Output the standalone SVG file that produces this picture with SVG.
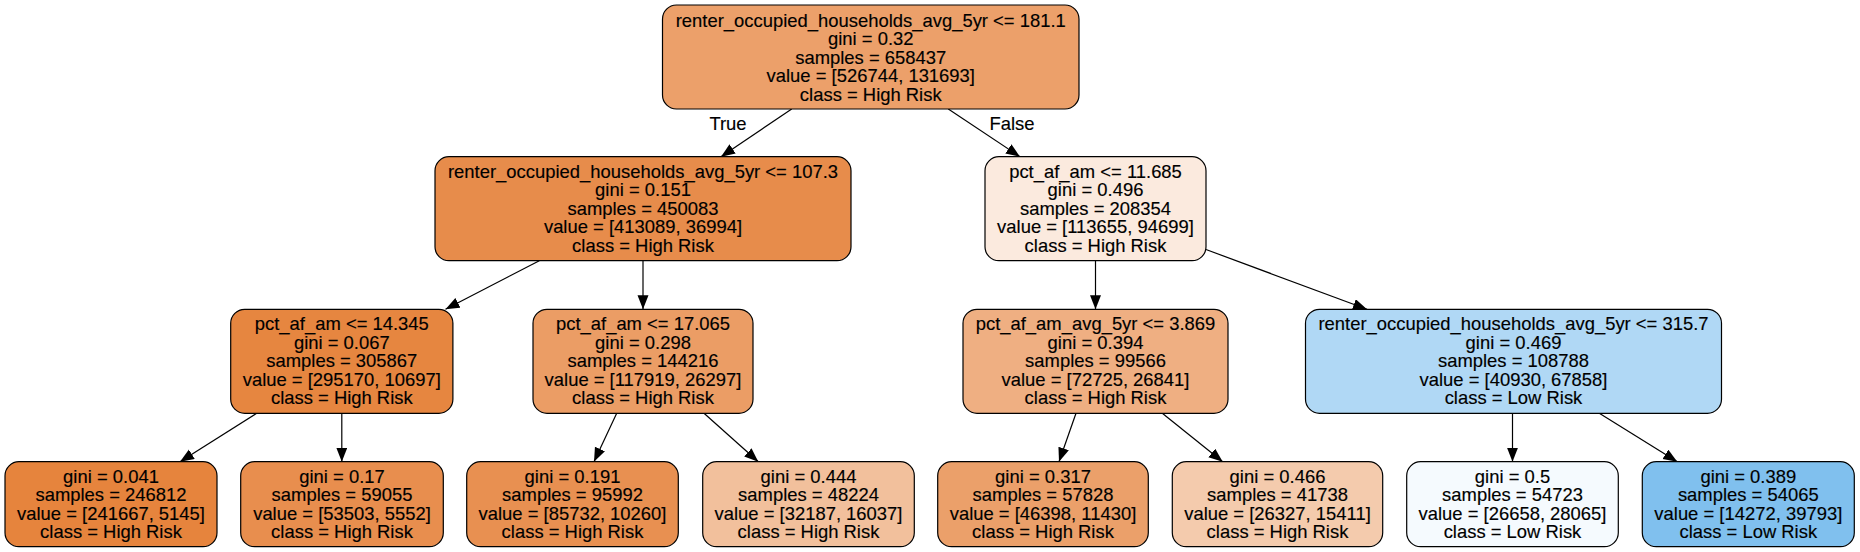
<svg xmlns="http://www.w3.org/2000/svg" width="1860" height="552" viewBox="0 0 1860 552">
<style>
rect.n { stroke:#000; stroke-width:1.2; }
text { font-family:"Liberation Sans", Arial, Helvetica, sans-serif; font-size:17.8px; text-anchor:middle; fill:#000; stroke:#000; stroke-width:0.15; }
line.e { stroke:#000; stroke-width:1.2; marker-end:url(#ah); }
</style>
<defs>
<marker id="ah" markerUnits="userSpaceOnUse" markerWidth="15" markerHeight="12" refX="14" refY="5.5" orient="auto">
<path d="M0,0 L14,5.5 L0,11 z" fill="#000"/>
</marker>
</defs>
<rect width="1860" height="552" fill="#fff"/>
<g id="connectors">
<line class="e" x1="791.7" y1="109" x2="721" y2="156.7"/>
<line class="e" x1="948.3" y1="109" x2="1020" y2="156.7"/>
<g transform="translate(728,0) scale(1.035,1)"><text x="0" y="130">True</text></g>
<g transform="translate(1012,0) scale(1.035,1)"><text x="0" y="130">False</text></g>
<line class="e" x1="539.3" y1="260.7" x2="445.5" y2="309.3"/>
<line class="e" x1="643" y1="260.7" x2="643" y2="309.3"/>
<line class="e" x1="1095.5" y1="260.7" x2="1095.5" y2="309.3"/>
<line class="e" x1="1206" y1="249.5" x2="1367" y2="309.3"/>
<line class="e" x1="256.7" y1="413.3" x2="180" y2="461.7"/>
<line class="e" x1="341.8" y1="413.3" x2="341.8" y2="461.7"/>
<line class="e" x1="616.7" y1="413.3" x2="594" y2="461.7"/>
<line class="e" x1="704" y1="413.3" x2="758.3" y2="461.7"/>
<line class="e" x1="1076" y1="413.3" x2="1059" y2="461.7"/>
<line class="e" x1="1162.3" y1="413.3" x2="1222.7" y2="461.7"/>
<line class="e" x1="1512.5" y1="413.3" x2="1512.5" y2="461.7"/>
<line class="e" x1="1599.3" y1="413.3" x2="1677.3" y2="461.7"/>
</g>
<g id="node0">
<rect class="n" x="662.5" y="5" width="416.5" height="104" rx="14" fill="#eca06a"/>
<g transform="translate(870.75,0) scale(1.035,1)">
<text x="0" y="26.7">renter_occupied_households_avg_5yr &lt;= 181.1</text>
<text x="0" y="45.2">gini = 0.32</text>
<text x="0" y="63.7">samples = 658437</text>
<text x="0" y="82.2">value = [526744, 131693]</text>
<text x="0" y="100.7">class = High Risk</text>
</g>
</g>
<g id="node1">
<rect class="n" x="435" y="156.7" width="416" height="104" rx="14" fill="#e78c4b"/>
<g transform="translate(643,0) scale(1.035,1)">
<text x="0" y="177.7">renter_occupied_households_avg_5yr &lt;= 107.3</text>
<text x="0" y="196.2">gini = 0.151</text>
<text x="0" y="214.7">samples = 450083</text>
<text x="0" y="233.2">value = [413089, 36994]</text>
<text x="0" y="251.7">class = High Risk</text>
</g>
</g>
<g id="node8">
<rect class="n" x="985" y="156.7" width="221" height="104" rx="14" fill="#fbeade"/>
<g transform="translate(1095.5,0) scale(1.035,1)">
<text x="0" y="177.7">pct_af_am &lt;= 11.685</text>
<text x="0" y="196.2">gini = 0.496</text>
<text x="0" y="214.7">samples = 208354</text>
<text x="0" y="233.2">value = [113655, 94699]</text>
<text x="0" y="251.7">class = High Risk</text>
</g>
</g>
<g id="node2">
<rect class="n" x="230.7" y="309.3" width="222.2" height="104" rx="14" fill="#e68640"/>
<g transform="translate(341.8,0) scale(1.035,1)">
<text x="0" y="330.3">pct_af_am &lt;= 14.345</text>
<text x="0" y="348.8">gini = 0.067</text>
<text x="0" y="367.3">samples = 305867</text>
<text x="0" y="385.8">value = [295170, 10697]</text>
<text x="0" y="404.3">class = High Risk</text>
</g>
</g>
<g id="node5">
<rect class="n" x="533" y="309.3" width="220" height="104" rx="14" fill="#eb9d65"/>
<g transform="translate(643,0) scale(1.035,1)">
<text x="0" y="330.3">pct_af_am &lt;= 17.065</text>
<text x="0" y="348.8">gini = 0.298</text>
<text x="0" y="367.3">samples = 144216</text>
<text x="0" y="385.8">value = [117919, 26297]</text>
<text x="0" y="404.3">class = High Risk</text>
</g>
</g>
<g id="node9">
<rect class="n" x="963" y="309.3" width="265" height="104" rx="14" fill="#efaf82"/>
<g transform="translate(1095.5,0) scale(1.035,1)">
<text x="0" y="330.3">pct_af_am_avg_5yr &lt;= 3.869</text>
<text x="0" y="348.8">gini = 0.394</text>
<text x="0" y="367.3">samples = 99566</text>
<text x="0" y="385.8">value = [72725, 26841]</text>
<text x="0" y="404.3">class = High Risk</text>
</g>
</g>
<g id="node12">
<rect class="n" x="1305.5" y="309.3" width="416" height="104" rx="14" fill="#b0d8f5"/>
<g transform="translate(1513.5,0) scale(1.035,1)">
<text x="0" y="330.3">renter_occupied_households_avg_5yr &lt;= 315.7</text>
<text x="0" y="348.8">gini = 0.469</text>
<text x="0" y="367.3">samples = 108788</text>
<text x="0" y="385.8">value = [40930, 67858]</text>
<text x="0" y="404.3">class = Low Risk</text>
</g>
</g>
<g id="node3">
<rect class="n" x="5" y="461.7" width="212" height="85" rx="14" fill="#e6843d"/>
<g transform="translate(111,0) scale(1.035,1)">
<text x="0" y="482.7">gini = 0.041</text>
<text x="0" y="501.2">samples = 246812</text>
<text x="0" y="519.7">value = [241667, 5145]</text>
<text x="0" y="538.2">class = High Risk</text>
</g>
</g>
<g id="node4">
<rect class="n" x="240.7" y="461.7" width="202.6" height="85" rx="14" fill="#e88e4e"/>
<g transform="translate(342,0) scale(1.035,1)">
<text x="0" y="482.7">gini = 0.17</text>
<text x="0" y="501.2">samples = 59055</text>
<text x="0" y="519.7">value = [53503, 5552]</text>
<text x="0" y="538.2">class = High Risk</text>
</g>
</g>
<g id="node6">
<rect class="n" x="466.7" y="461.7" width="211.6" height="85" rx="14" fill="#e89051"/>
<g transform="translate(572.5,0) scale(1.035,1)">
<text x="0" y="482.7">gini = 0.191</text>
<text x="0" y="501.2">samples = 95992</text>
<text x="0" y="519.7">value = [85732, 10260]</text>
<text x="0" y="538.2">class = High Risk</text>
</g>
</g>
<g id="node7">
<rect class="n" x="702.7" y="461.7" width="211.6" height="85" rx="14" fill="#f2c09c"/>
<g transform="translate(808.5,0) scale(1.035,1)">
<text x="0" y="482.7">gini = 0.444</text>
<text x="0" y="501.2">samples = 48224</text>
<text x="0" y="519.7">value = [32187, 16037]</text>
<text x="0" y="538.2">class = High Risk</text>
</g>
</g>
<g id="node10">
<rect class="n" x="937.7" y="461.7" width="210.6" height="85" rx="14" fill="#eba06a"/>
<g transform="translate(1043,0) scale(1.035,1)">
<text x="0" y="482.7">gini = 0.317</text>
<text x="0" y="501.2">samples = 57828</text>
<text x="0" y="519.7">value = [46398, 11430]</text>
<text x="0" y="538.2">class = High Risk</text>
</g>
</g>
<g id="node11">
<rect class="n" x="1172.3" y="461.7" width="210.4" height="85" rx="14" fill="#f4cbad"/>
<g transform="translate(1277.5,0) scale(1.035,1)">
<text x="0" y="482.7">gini = 0.466</text>
<text x="0" y="501.2">samples = 41738</text>
<text x="0" y="519.7">value = [26327, 15411]</text>
<text x="0" y="538.2">class = High Risk</text>
</g>
</g>
<g id="node13">
<rect class="n" x="1406.7" y="461.7" width="211.6" height="85" rx="14" fill="#f5fafe"/>
<g transform="translate(1512.5,0) scale(1.035,1)">
<text x="0" y="482.7">gini = 0.5</text>
<text x="0" y="501.2">samples = 54723</text>
<text x="0" y="519.7">value = [26658, 28065]</text>
<text x="0" y="538.2">class = Low Risk</text>
</g>
</g>
<g id="node14">
<rect class="n" x="1642.3" y="461.7" width="212" height="85" rx="14" fill="#80c0ee"/>
<g transform="translate(1748.3,0) scale(1.035,1)">
<text x="0" y="482.7">gini = 0.389</text>
<text x="0" y="501.2">samples = 54065</text>
<text x="0" y="519.7">value = [14272, 39793]</text>
<text x="0" y="538.2">class = Low Risk</text>
</g>
</g>
</svg>
